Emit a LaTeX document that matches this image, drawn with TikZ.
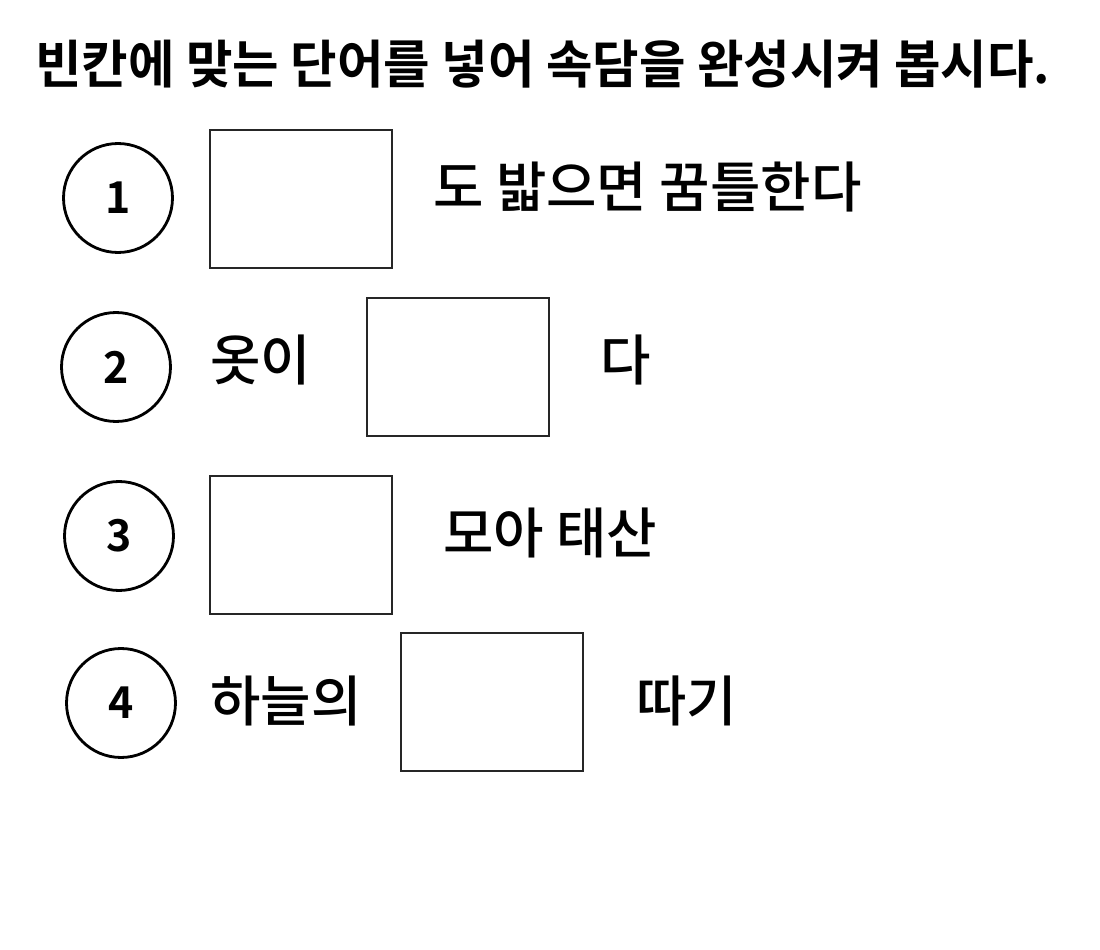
\documentclass[tikz,border=0pt]{standalone}
\usepackage{fontspec}
\setmainfont{Noto Sans CJK KR Medium}
\newfontfamily\titlefont[FakeStretch=0.975]{Noto Sans CJK KR Bold}
\usetikzlibrary{positioning}

\begin{document}
\begin{tikzpicture}[x=0.02cm,y=-0.02cm,
                numcirc/.style={draw,line width=1.6pt,circle,minimum size=2.18cm,inner sep=0pt,font=\titlefont\fontsize{25}{30}\selectfont},
                blank/.style={draw=black!85,line width=0.8pt,rectangle,minimum width=3.64cm,minimum height=2.76cm,inner sep=0pt},
                word/.style={anchor=west,inner sep=0pt,font=\fontsize{31.2}{36}\selectfont}]
                \useasboundingbox (0,0) rectangle (1100,950);
                \node[anchor=west,inner sep=0pt,font=\titlefont\fontsize{29.5}{34}\selectfont] (title) at (35,64) {빈칸에 맞는 단어를 넣어 속담을 완성시켜 봅시다.};
                \node[numcirc] (c1) at (118,198) {1};
                \node[blank] (b1) at (301,199) {};
                \node[word] (w1) at (433,187) {도 밟으면 꿈틀한다};
                \node[numcirc] (c2) at (116,367) {2};
                \node[word] (w2a) at (210,360) {옷이};
                \node[blank] (b2) at (458,367) {};
                \node[word] (w2b) at (600,360) {다};
                \node[numcirc] (c3) at (119,536) {3};
                \node[blank] (b3) at (301,545) {};
                \node[word] (w3) at (443,533) {모아 태산};
                \node[numcirc] (c4) at (121,703) {4};
                \node[word] (w4a) at (210,701) {하늘의};
                \node[blank] (b4) at (492,702) {};
                \node[word] (w4b) at (636,701) {따기};
            \end{tikzpicture}
\end{document}
